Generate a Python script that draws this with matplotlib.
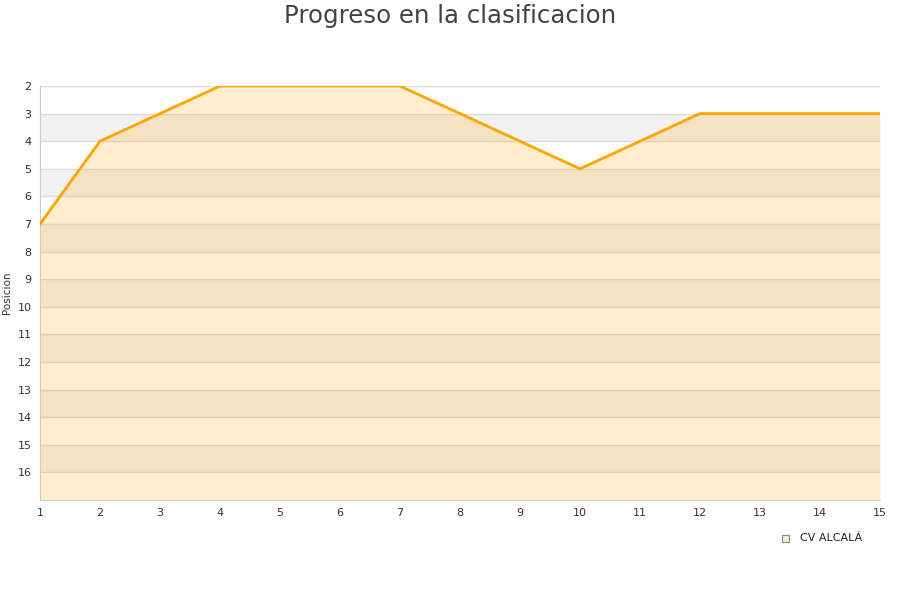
import matplotlib
matplotlib.use("Agg")
import matplotlib.pyplot as plt

jornadas = [1, 2, 3, 4, 5, 6, 7, 8, 9, 10, 11, 12, 13, 14, 15]
posicion = [7, 4, 3, 2, 2, 2, 2, 3, 4, 5, 4, 3, 3, 3, 3]
team = "CV ALCALÁ"
y_ticks = list(range(2, 17))

fig = plt.figure(figsize=(9, 6), dpi=100)
ax = fig.add_axes([40/900, 1-500/600, 840/900, 414/600])

ymin, ymax = 2, 17
# alternating bands
for i, y in enumerate(range(ymin, ymax)):
    if i % 2 == 1:
        ax.axhspan(y, y+1, color="#f2f2f2", zorder=0, lw=0)
for y in range(ymin, ymax):
    ax.axhline(y, color="#dddddd", lw=1, zorder=1)

ax.fill_between(jornadas, posicion, ymax, color="#ffa500", alpha=0.2, lw=0, zorder=2)
ax.plot(jornadas, posicion, color="#ffa500", lw=2, zorder=3)

ax.set_xlim(1, 15)
ax.set_ylim(ymax, ymin)
ax.set_xticks(jornadas)
ax.set_yticks(y_ticks)
ax.tick_params(axis="both", length=0, labelsize=8, colors="#333333", pad=6)
for s in ["top", "right"]:
    ax.spines[s].set_visible(False)
for s in ["left", "bottom"]:
    ax.spines[s].set_color("#cccccc")

ax.set_ylabel("Posicion", fontsize=7.5, color="#333333", labelpad=4)
fig.text(0.5, 1-16/600, "Progreso en la clasificacion", ha="center", va="center",
         fontsize=17.6, color="#444444")

# legend
fig.patches.append(plt.Rectangle((782/900, 1-542/600), 7/900, 7/600, transform=fig.transFigure,
                                 facecolor="#ffedcc", edgecolor="#888888", lw=0.8))
fig.text(800/900, 1-538/600, team, fontsize=8, va="center", ha="left", color="#222222")

fig.savefig("out.png", dpi=100)
